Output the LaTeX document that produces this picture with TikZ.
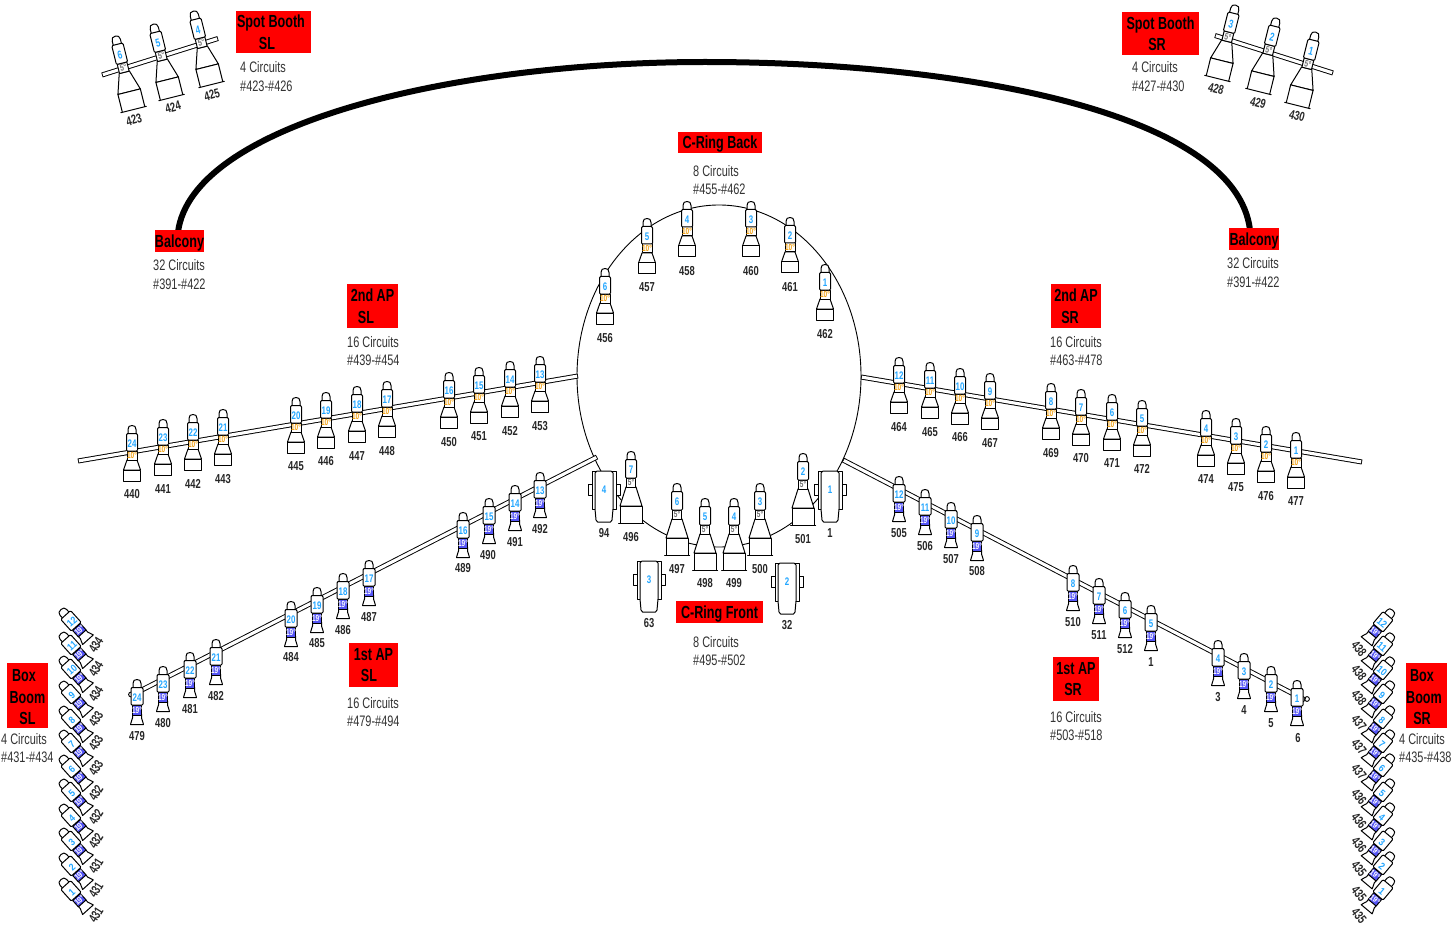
\documentclass[tikz,border=0pt]{standalone}
\usepackage{fontspec}
\setmainfont{Liberation Sans}
\newfontfamily\nar[FakeStretch=0.72]{Liberation Sans}
\usetikzlibrary{shapes.geometric}
\definecolor{numblue}{HTML}{22A6FF}
\definecolor{gelorange}{HTML}{F2A010}
\definecolor{gelblue}{HTML}{5555F5}
\definecolor{gelgray}{HTML}{707070}
\definecolor{infogray}{HTML}{333333}
\tikzset{
  redbox/.style={fill=red,text=black,inner sep=0pt,align=center,font=\nar\bfseries\fontsize{17.5}{21.5}\selectfont},
  redone/.style={redbox,text height=13pt,text depth=0pt},
  info/.style={anchor=west,inner sep=0pt,align=left,text=infogray,font=\nar\fontsize{15.2}{18.5}\selectfont},
  lab/.style={inner sep=0pt,text=black!85,font=\nar\bfseries\fontsize{13}{13}\selectfont},
  numtxt/.style={inner sep=0pt,text=numblue,transform shape,font=\nar\bfseries\fontsize{11}{11}\selectfont},
  geltxt/.style={inner sep=0pt,transform shape,font=\nar\bfseries\fontsize{9}{9}\selectfont},
  fx/.style={draw=black,fill=white,line width=1pt,line join=round},
  pipe/.style={draw=black,line width=5pt,postaction={draw=white,line width=3.1pt,shorten >=.9pt,shorten <=.9pt}},
  balc/.style={draw=black,line width=6pt}
}
% cap and lens body, common to the long fixtures
\newcommand\headpart[2]{%
  \path[fx] (-4,-9) -- (-4,-14.5) .. controls (-4,-17.5) and (-2.5,-18.5) .. (0,-18.5) .. controls (2.5,-18.5) and (4,-17.5) .. (4,-14.5) -- (4,-9) -- cycle;
  \path[fx] (-#1+1,-10.5) -- (#1-1,-10.5) -- (#1,-9) -- (#1,#2-1) -- (#1-1,#2) -- (-#1+1,#2) -- (-#1,#2-1) -- (-#1,-9) -- cycle;
}
% 10 degree fixture: name, number, x, y
\newcommand\lightA[5][]{\begin{scope}[shift={(#4,#5)},#1]
  \path[fx] (-5,16) -- (5,16) -- (8.5,26) -- (-8.5,26) -- cycle;
  \path[fx] (-8.5,26) rectangle (8.5,37);
  \path[fx] (-5,7) rectangle (5,16);
  \headpart{5.5}{7}
  \node[geltxt,text=gelorange] (#2g) at (0,11.7) {10°};
  \node[numtxt] (#2) at (0,0) {#3};
\end{scope}}
% 19 degree fixture
\newcommand\lightB[5][]{\begin{scope}[shift={(#4,#5)},#1]
  \path[fx] (-4.5,16) -- (-4.5,20) .. controls (-4.5,23) and (-6.5,23) .. (-6.5,26.5) -- (6.5,26.5) .. controls (6.5,23) and (4.5,23) .. (4.5,20) -- (4.5,16) -- cycle;
  \path[fx,fill=gelblue] (-4.7,7.5) rectangle (4.7,17);
  \headpart{6}{7}
  \node[geltxt,text=white] (#2g) at (0,12.3) {19°};
  \node[numtxt] (#2) at (0,0) {#3};
\end{scope}}
% 5 degree fixture
\newcommand\lightC[5][]{\begin{scope}[shift={(#4,#5)},#1]
  \path[fx] (-5,17) -- (5,17) -- (11,36) -- (-11,36) -- cycle;
  \path[fx] (-11,36) -- (11,36) -- (11,53.5) -- (12.5,53.5) -- (-12.5,53.5) -- (-11,53.5) -- cycle;
  \path[fx] (-4.7,8) rectangle (4.7,17);
  \headpart{5.5}{8}
  \node[geltxt,text=gelgray] (#2g) at (0,12.7) {5°};
  \node[numtxt] (#2) at (0,0) {#3};
\end{scope}}
% box fixture
\newcommand\lightD[4]{\begin{scope}[shift={(#3,#4)}]
  \path[fx] (-16,-6) rectangle (-9,5);
  \path[fx] (9,-6) rectangle (16,5);
  \path[fx] (-12,-19) rectangle (12,19);
  \path[fx] (-7,-19) -- (7,-19) -- (9,-17) -- (9,19) -- (8,30) -- (6.5,32) -- (-6.5,32) -- (-8,30) -- (-9,19) -- (-9,-17) -- cycle;
  \node[numtxt] (#1) at (0,0) {#2};
\end{scope}}
\begin{document}
\begin{tikzpicture}[x=1pt,y=-1pt]
\useasboundingbox[fill=white] (0,0) rectangle (1453,925);
% ring and pipes
\node[draw=black,line width=0.9pt,ellipse,inner sep=0pt,minimum width=284pt,minimum height=342pt] (ring) at (719,376) {};
\coordinate (apTwoLa) at (78,461); \coordinate (apTwoLb) at (578,376);
\coordinate (apTwoRa) at (861,377); \coordinate (apTwoRb) at (1362,462);
\coordinate (apOneLa) at (133,694.5); \coordinate (apOneLb) at (597,457);
\coordinate (apOneRa) at (843,460); \coordinate (apOneRb) at (1305,700);
\coordinate (barLa) at (102,75); \coordinate (barLb) at (218,38.5);
\coordinate (barRa) at (1215,35.5); \coordinate (barRb) at (1333,73);
\draw[pipe] (apTwoLa) -- (apTwoLb);
\draw[pipe] (apTwoRa) -- (apTwoRb);
\draw[pipe] (apOneLa) -- (apOneLb);
\draw[pipe] (apOneRa) -- (apOneRb);
\draw[pipe] (barLa) -- (barLb);
\draw[pipe] (barRa) -- (barRb);
\draw[line width=.9pt] (apOneLa) ++(-2,0) circle (2.4pt);
\draw[line width=.9pt] (apOneRb) ++(2,-1) circle (2.4pt);
% 2nd AP SL
\foreach \nn/\nx/\ny/\lx/\ly/\ll [count=\i] in {24/132/444/132/494/440,23/163/438/163/489/441,22/193/433/193/484/442,21/223/428/223/479/443,20/296/416/296/466/445,19/326/411/326/461/446,18/357/405/357/456/447,17/387/400/387/451/448,16/449/391/449/442/450,15/479/386/479/436/451,14/510/380/510/431/452,13/540/375/540/426/453}{
  \lightA{twoL\i}{\nn}{\nx}{\ny}
  \node[lab] (twoLl\i) at (\lx,\ly) {\ll};
}
% 2nd AP SR
\foreach \nn/\nx/\ny/\lx/\ly/\ll [count=\i] in {12/899/376/899/427/464,11/930/381/930/432/465,10/960/387/960/437/466,9/990/392/990/443/467,8/1051/402/1051/453/469,7/1081/408/1081/458/470,6/1112/413/1112/463/471,5/1142/419/1142/469/472,4/1206/429/1206/479/474,3/1236/437/1236/487/475,2/1266/445/1266/496/476,1/1296/451/1296/501/477}{
  \lightA{twoR\i}{\nn}{\nx}{\ny}
  \node[lab] (twoRl\i) at (\lx,\ly) {\ll};
}
% C-ring back
\foreach \nn/\nx/\ny/\lx/\ly/\ll [count=\i] in {6/605/287/605/338/456,5/647/237/647/287/457,4/687/220/687/271/458,3/751/220/751/271/460,2/790/236/790/287/461,1/825/283/825/334/462}{
  \lightA{back\i}{\nn}{\nx}{\ny}
  \node[lab] (backl\i) at (\lx,\ly) {\ll};
}
% 1st AP SL
\foreach \nn/\nx/\ny/\lx/\ly/\ll [count=\i] in {24/137/698/137/736/479,23/163/685/163/723/480,22/190/671/190/709/481,21/216/658/216/696/482,20/291/620/291/657/484,19/317/606/317/643/485,18/343/592/343/630/486,17/369/579/369/617/487,16/463/531/463/568/489,15/489/517/488/555/490,14/515/504/515/542/491,13/540/491/540/529/492}{
  \lightB{oneL\i}{\nn}{\nx}{\ny}
  \node[lab] (oneLl\i) at (\lx,\ly) {\ll};
}
% 1st AP SR
\foreach \nn/\nx/\ny/\lx/\ly/\ll [count=\i] in {12/899/495/899/533/505,11/925/508/925/546/506,10/951/521/951/559/507,9/977/534/977/571/508,8/1073/584/1073/622/510,7/1099/597/1099/635/511,6/1125/611/1125/649/512,5/1151/624/1151/662/1,4/1218/659/1218/697/3,3/1244/672/1244/710/4,2/1271/685/1271/723/5,1/1297/699/1298/738/6}{
  \lightB{oneR\i}{\nn}{\nx}{\ny}
  \node[lab] (oneRl\i) at (\lx,\ly) {\ll};
}
% C-ring front
\foreach \nn/\nx/\ny/\lx/\ly/\ll [count=\i] in {7/631/470/631/537/496,6/677/502/677/569/497,5/705/517/705/583/498,4/734/517/734/583/499,3/760/502/760/569/500,2/803/472/803/539/501}{
  \lightC{front\i}{\nn}{\nx}{\ny}
  \node[lab] (frontl\i) at (\lx,\ly) {\ll};
}
% box fixtures
\foreach \nn/\nx/\ny/\lx/\ly/\ll [count=\i] in {4/604/490/604/533/94,1/830/490/830/533/1,3/649/580/649/623/63,2/787/582/787/625/32}{
  \lightD{box\i}{\nn}{\nx}{\ny}
  \node[lab] (boxl\i) at (\lx,\ly) {\ll};
}
% Spot booths
\foreach \nn/\nx/\ny/\lx/\ly/\ll [count=\i] in {6/120/55/134/120/423,5/158/43/173/107/424,4/198/30/212/95/425}{
  \lightC[rotate=14,scale=1.05]{spotL\i}{\nn}{\nx}{\ny}
  \node[lab,rotate=15] (spotLl\i) at (\lx,\ly) {\ll};
}
\foreach \nn/\nx/\ny/\lx/\ly/\ll [count=\i] in {3/1231/24/1216/89/428,2/1272/37/1258/103/429,1/1311/51/1297/116/430}{
  \lightC[rotate=-14,scale=1.05]{spotR\i}{\nn}{\nx}{\ny}
  \node[lab,rotate=-15] (spotRl\i) at (\lx,\ly) {\ll};
}
% Box booms
\foreach \nn/\ny/\ly/\ll [count=\i] in {12/622/645/434,11/646/669/434,10/670/694/434,9/695/719/433,8/720/743/433,7/744/768/433,6/769/793/432,5/793/817/432,4/818/841/432,3/842/866/431,2/867/890/431,1/892/915/431}{
  \lightB[rotate=42,xscale=1.1,yscale=.9]{boomL\i}{\nn}{72}{\ny}
  \node[lab,rotate=58] (boomLl\i) at (96,\ly) {\ll};
}
\foreach \nn/\ny/\ly/\ll [count=\i] in {12/623/649/438,11/647/673/438,10/671/698/438,9/695/723/437,8/720/747/437,7/744/772/437,6/768/797/436,5/793/821/436,4/817/845/436,3/842/869/435,2/866/894/435,1/891/916/435}{
  \lightB[rotate=-40,xscale=1.1,yscale=.9]{boomR\i}{\nn}{1382}{\ny}
  \node[lab,rotate=-52] (boomRl\i) at (1359,\ly) {\ll};
}
% balcony connector, then red title boxes
\coordinate (balTop) at (705,62);
\coordinate (balLend) at (178,232);
\coordinate (balRend) at (1250,230);
\draw[balc] (balLend) .. controls (192,125) and (450,62) .. (balTop) .. controls (960,62) and (1236,112) .. (balRend);
\node[redone,minimum width=49pt,minimum height=22pt] (balL) at (179.5,241) {Balcony};
\node[redone,minimum width=50pt,minimum height=22pt] (balR) at (1254,239) {Balcony};
\node[redbox,minimum width=75pt,minimum height=42pt] (spotLt) at (273.5,32) {\hspace*{-5pt}Spot Booth\\\hspace*{-13pt}SL};
\node[redbox,minimum width=77pt,minimum height=43pt] (spotRt) at (1160.5,33.5) {Spot Booth\\\hspace*{-7pt}SR};
\node[redone,minimum width=84pt,minimum height=21pt] (backt) at (720,142.5) {C-Ring Back};
\node[redbox,minimum width=51pt,minimum height=44pt] (twoLt) at (372.5,306) {2nd AP\\\hspace*{-13pt}SL};
\node[redbox,minimum width=50pt,minimum height=44pt] (twoRt) at (1076,306) {2nd AP\\\hspace*{-12pt}SR};
\node[redbox,minimum width=49pt,minimum height=44pt] (oneLt) at (373.5,665) {1st AP\\\hspace*{-9pt}SL};
\node[redbox,minimum width=46pt,minimum height=44pt] (oneRt) at (1076,679) {1st AP\\\hspace*{-6pt}SR};
\node[redone,minimum width=87pt,minimum height=22pt] (frontt) at (719.5,612) {C-Ring Front};
\node[redbox,minimum width=41pt,minimum height=65pt] (boomLt) at (27.5,695.5) {\rule{0pt}{16pt}\hspace*{-7pt}Box\\Boom\\SL};
\node[redbox,minimum width=41pt,minimum height=65pt] (boomRt) at (1426.5,695.5) {\rule{0pt}{16pt}\hspace*{-9pt}Box\\\hspace*{-5pt}Boom\\\hspace*{-9pt}SR};
% circuit notes
\node[info] (spotLi) at (240,76.5) {4 Circuits\\\#423-\#426};
\node[info] (spotRi) at (1132,76.5) {4 Circuits\\\#427-\#430};
\node[info] (backi) at (693,180) {8 Circuits\\\#455-\#462};
\node[info] (balLi) at (153,274.5) {32 Circuits\\\#391-\#422};
\node[info] (balRi) at (1227,272.5) {32 Circuits\\\#391-\#422};
\node[info] (twoLi) at (347,351) {16 Circuits\\\#439-\#454};
\node[info] (twoRi) at (1050,351) {16 Circuits\\\#463-\#478};
\node[info] (oneLi) at (347,712) {16 Circuits\\\#479-\#494};
\node[info] (oneRi) at (1050,726) {16 Circuits\\\#503-\#518};
\node[info] (fronti) at (693,651) {8 Circuits\\\#495-\#502};
\node[info] (boomLi) at (1,748) {4 Circuits\\\#431-\#434};
\node[info] (boomRi) at (1399,748) {4 Circuits\\\#435-\#438};
\end{tikzpicture}
\end{document}
